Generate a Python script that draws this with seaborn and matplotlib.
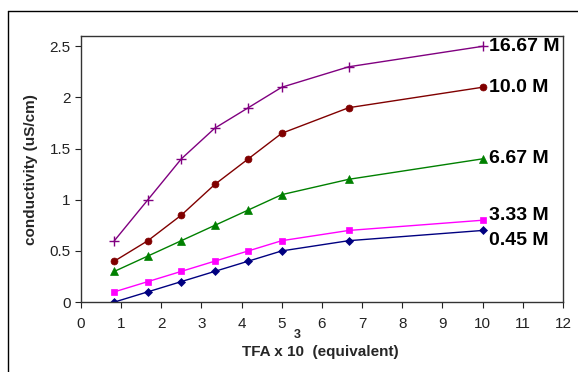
import matplotlib
matplotlib.use("Agg")
import matplotlib.pyplot as plt
import seaborn as sns
import pandas as pd
from matplotlib.lines import Line2D

tfa = [0.833, 1.667, 2.5, 3.333, 4.167, 5.0, 6.667, 10.0]
s_045 = [0.0, 0.1, 0.2, 0.3, 0.4, 0.5, 0.6, 0.7]
s_333 = [0.1, 0.2, 0.3, 0.4, 0.5, 0.6, 0.7, 0.8]
s_667 = [0.3, 0.45, 0.6, 0.75, 0.9, 1.05, 1.2, 1.4]
s_100 = [0.4, 0.6, 0.85, 1.15, 1.4, 1.65, 1.9, 2.1]
s_1667 = [0.6, 1.0, 1.4, 1.7, 1.9, 2.1, 2.3, 2.5]
series_names = ["0.45 M", "3.33 M", "6.67 M", "10.0 M", "16.67 M"]
series_vals = [s_045, s_333, s_667, s_100, s_1667]

rows = []
for name, vals in zip(series_names, series_vals):
    for x, y in zip(tfa, vals):
        rows.append({"tfa": x, "cond": y, "series": name})
df = pd.DataFrame(rows)

sns.set_style("white")
plt.rcParams['font.family'] = ['Liberation Sans', 'DejaVu Sans']

colors = {"0.45 M": "#000080", "3.33 M": "#FF00FF", "6.67 M": "#008000",
          "10.0 M": "#800000", "16.67 M": "#800080"}
markers = {"0.45 M": "D", "3.33 M": "s", "6.67 M": "^", "10.0 M": "o", "16.67 M": "+"}
msize = {"0.45 M": 4, "3.33 M": 4.5, "6.67 M": 5.5, "10.0 M": 5, "16.67 M": 6.5}

fig = plt.figure(figsize=(5.78, 3.72), dpi=100)
ax = fig.add_axes([0.140, 0.188, 0.834, 0.715])

for name in series_names:
    sub = df[df.series == name]
    sns.lineplot(data=sub, x="tfa", y="cond", ax=ax, color=colors[name],
                 marker=markers[name], markersize=msize[name],
                 markeredgecolor=colors[name], markeredgewidth=1.0 if name == "16.67 M" else 0.5,
                 linewidth=1.0, legend=False)

ax.set_xlim(0, 12)
ax.set_ylim(0, 2.6)
ax.set_xticks(range(0, 13))
ax.set_yticks([0, 0.5, 1, 1.5, 2, 2.5])
ax.set_yticklabels(["0", "0.5", "1", "1.5", "2", "2.5"])
ax.tick_params(axis="both", direction="out", length=4, width=0.8, labelsize=11,
               colors="#222222", bottom=True, left=True)
ax.tick_params(axis="x", pad=7)
for sp in ax.spines.values():
    sp.set_color("#333333")
    sp.set_linewidth(1.0)

ax.set_xlabel("")
ax.set_ylabel("conductivity (uS/cm)", fontsize=11, fontweight="bold", labelpad=8)

# series labels at right end
label_offsets = {"0.45 M": -0.10, "3.33 M": 0.05, "6.67 M": 0.0, "10.0 M": 0.0, "16.67 M": 0.0}
for name, vals in zip(series_names, series_vals):
    ax.text(tfa[-1] + 0.15, vals[-1] + label_offsets[name], name, fontsize=14,
            fontweight="bold", va="center", ha="left", color="black")

fig.text(0.555, 0.053, "TFA x 10  (equivalent)", fontsize=11, fontweight="bold",
         ha="center", va="center")
fig.text(0.514, 0.1, "3", fontsize=9, fontweight="bold", ha="center", va="center")

# outer frame
fig.add_artist(Line2D([0.013, 0.013], [0, 0.97], transform=fig.transFigure, color="black", lw=1.0))
fig.add_artist(Line2D([0.013, 1.0], [0.97, 0.97], transform=fig.transFigure, color="black", lw=1.0))

fig.savefig("out.png", dpi=100)
